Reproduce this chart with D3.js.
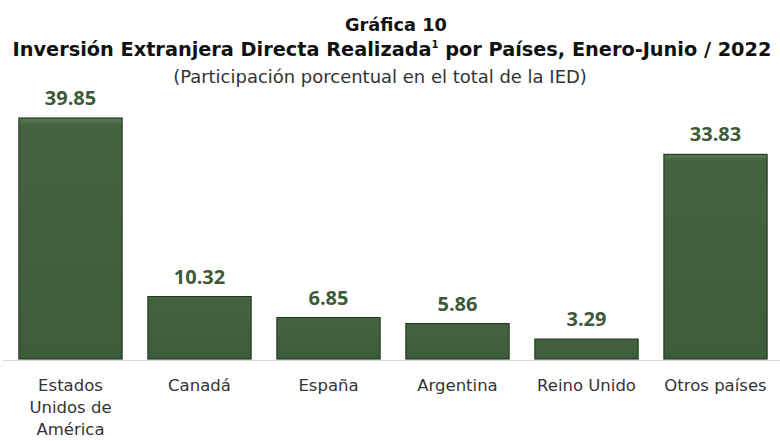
<!DOCTYPE html>
<html><head><meta charset="utf-8">
<script src="https://cdn.jsdelivr.net/npm/d3@7"></script>
<style>body{margin:0;background:#fff}svg{display:block}</style>
</head><body><svg id="c" width="780" height="441"></svg>
<script>
const categories = [["Estados","Unidos de","América"],["Canadá"],["España"],["Argentina"],["Reino Unido"],["Otros países"]];
const values = [39.85, 10.32, 6.85, 5.86, 3.29, 33.83];
const labels = ["39.85","10.32","6.85","5.86","3.29","33.83"];
const title1 = "Gráfica 10";
const title2 = "Inversión Extranjera Directa Realizada";
const title2b = " por Países, Enero-Junio / 2022";
const subtitle = "(Participación porcentual en el total de la IED)";

const svg = d3.select("#c");
const x = d3.scaleBand().domain(d3.range(values.length)).range([6,780]).paddingInner(0.2).paddingOuter(0.1);
const y = d3.scaleLinear().domain([0, 39.85]).range([359, 118]);
const FONT = "'DejaVu Sans', sans-serif";

const defs = svg.append("defs");
const g = defs.append("linearGradient").attr("id","bg").attr("x1",0).attr("x2",0).attr("y1",0).attr("y2",1);
g.append("stop").attr("offset","0%").attr("stop-color","#5b7d55");
g.append("stop").attr("offset","3%").attr("stop-color","#44633f");
g.append("stop").attr("offset","100%").attr("stop-color","#3d5c39");

svg.append("line").attr("x1",3).attr("x2",780).attr("y1",360.5).attr("y2",360.5).attr("stroke","#d9d9d9").attr("stroke-width",1);

svg.selectAll("rect.bar").data(values).join("rect").attr("class","bar")
  .attr("x",(d,i)=>x(i)).attr("width",x.bandwidth())
  .attr("y",d=>y(d)).attr("height",d=>y(0)-y(d))
  .attr("fill","url(#bg)").attr("stroke","#263a23").attr("stroke-width",1.2);

svg.selectAll("text.val").data(values).join("text").attr("class","val")
  .attr("x",(d,i)=>x(i)+x.bandwidth()/2).attr("y",d=>y(d)-13)
  .attr("text-anchor","middle").attr("font-family","'Open Sans', sans-serif").attr("font-weight",700)
  .attr("font-size",20).attr("fill","#3d5a38").text((d,i)=>labels[i]);

const cat = svg.selectAll("text.cat").data(categories).join("text").attr("class","cat")
  .attr("text-anchor","middle").attr("font-family",FONT).attr("font-size",16.5).attr("fill","#333");
cat.each(function(lines,i){
  d3.select(this).selectAll("tspan").data(lines).join("tspan")
    .attr("x",x(i)+x.bandwidth()/2).attr("y",(l,j)=>391+j*22).text(l=>l);
});

function fit(sel, target){
  const w = sel.node().getComputedTextLength();
  const fs = +sel.attr("font-size");
  sel.attr("font-size", fs*target/w);
}
const t1 = svg.append("text").attr("x",396).attr("y",31).attr("text-anchor","middle")
  .attr("font-family",FONT).attr("font-weight",700).attr("font-size",18).attr("fill","#111").text(title1);
fit(t1,102);
const t2 = svg.append("text").attr("x",392).attr("y",56).attr("text-anchor","middle")
  .attr("font-family",FONT).attr("font-weight",700).attr("font-size",18).attr("fill","#111");
t2.append("tspan").text(title2);
t2.append("tspan").attr("font-size",10).attr("dy",-8).text("1");
t2.append("tspan").attr("dy",8).text(title2b);
fit(t2,760);
const st = svg.append("text").attr("x",380).attr("y",83).attr("text-anchor","middle")
  .attr("font-family",FONT).attr("font-size",14).attr("fill","#333").text(subtitle);
fit(st,414);
</script></body></html>
